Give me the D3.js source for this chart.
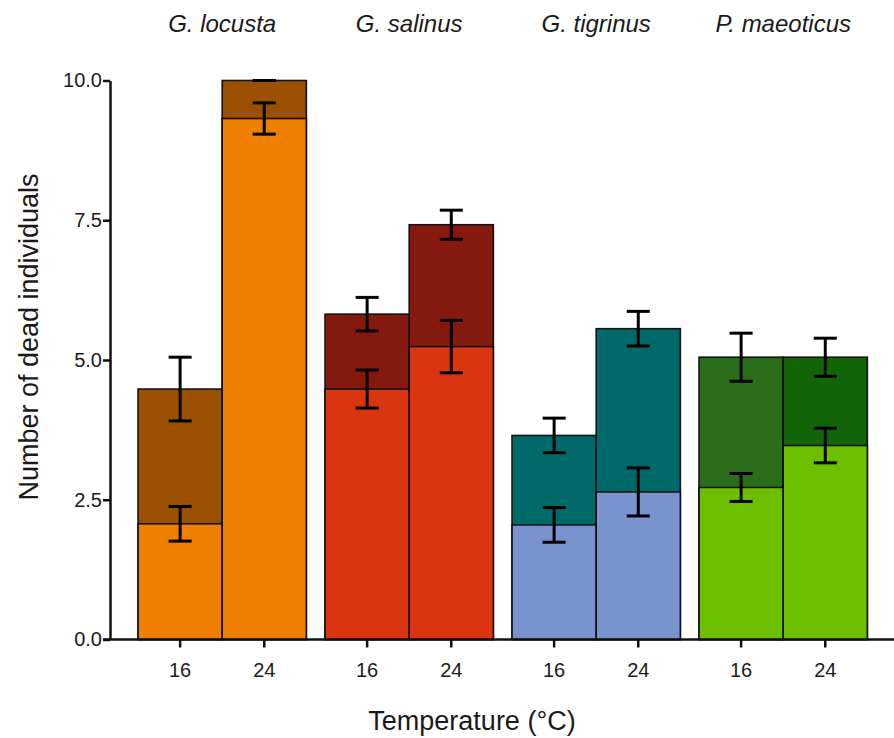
<!DOCTYPE html>
<html>
<head>
<meta charset="utf-8">
<script src="https://cdn.jsdelivr.net/npm/d3@7"></script>
<style>
  body { margin: 0; background: #fff; }
  text { font-family: "Liberation Sans", Arial, sans-serif; fill: #1a1a1a; }
  .species { font-style: italic; font-size: 24px; }
  .axis-label { font-size: 27px; }
</style>
</head>
<body>
<svg width="894" height="738"></svg>
<script>
  const species = ['G. locusta', 'G. salinus', 'G. tigrinus', 'P. maeoticus'];
  const temperatures = ['16', '24'];

  // lower (light) segment: mean and error, per species x temperature
  const lowerMean = [[2.07, 9.32], [4.48, 5.24], [2.05, 2.64], [2.72, 3.47]];
  const lowerErr  = [[0.31, 0.28], [0.34, 0.47], [0.31, 0.43], [0.25, 0.31]];
  // upper (dark) segment top: mean and error
  const upperMean = [[4.48, 10.0], [5.82, 7.42], [3.65, 5.56], [5.05, 5.05]];
  const upperErr  = [[0.57, 0.0], [0.30, 0.26], [0.31, 0.31], [0.43, 0.34]];

  const yTicks = [0, 2.5, 5, 7.5, 10];

  const lightColors = [['#ef7f00', '#ef7f00'], ['#db3410', '#db3410'], ['#7893ce', '#7893ce'], ['#6cc000', '#6cc000']];
  const darkColors  = [['#9b5000', '#9b5000'], ['#86190e', '#86190e'], ['#006a6a', '#006a6a'], ['#2a6d1a', '#116407']];

  const svg = d3.select('svg');

  const xOuter = d3.scaleBand()
    .domain(species)
    .range([110, 895.4])
    .paddingInner(0.1)
    .paddingOuter(0.15);

  const xInner = d3.scaleBand()
    .domain(temperatures)
    .range([0, xOuter.bandwidth()]);

  const yScale = d3.scaleLinear()
    .domain([0, 10])
    .range([639.5, 80.5]);

  // flatten into one row per bar
  const bars = [];
  species.forEach((s, i) => {
    temperatures.forEach((t, j) => {
      bars.push({
        species: s, temp: t,
        lower: lowerMean[i][j], lowerErr: lowerErr[i][j],
        upper: upperMean[i][j], upperErr: upperErr[i][j],
        light: lightColors[i][j], dark: darkColors[i][j]
      });
    });
  });

  const xLeft = d => xOuter(d.species) + xInner(d.temp);
  const xMid = d => xLeft(d) + xInner.bandwidth() / 2;

  const g = svg.append('g');

  // dark segment (full height to upper mean), then light segment on top
  g.selectAll('.upper-bar').data(bars).join('rect')
    .attr('class', 'upper-bar')
    .attr('x', xLeft)
    .attr('width', xInner.bandwidth())
    .attr('y', d => yScale(d.upper))
    .attr('height', d => yScale(0) - yScale(d.upper))
    .attr('fill', d => d.dark)
    .attr('stroke', '#111')
    .attr('stroke-width', 1.6);

  g.selectAll('.lower-bar').data(bars).join('rect')
    .attr('class', 'lower-bar')
    .attr('x', xLeft)
    .attr('width', xInner.bandwidth())
    .attr('y', d => yScale(d.lower))
    .attr('height', d => yScale(0) - yScale(d.lower))
    .attr('fill', d => d.light)
    .attr('stroke', '#111')
    .attr('stroke-width', 1.6);

  // error bars
  const errs = [];
  bars.forEach(d => {
    errs.push({ d: d, m: d.lower, e: d.lowerErr });
    errs.push({ d: d, m: d.upper, e: d.upperErr });
  });
  const capW = 11.5;
  const eg = g.selectAll('.err').data(errs).join('g')
    .attr('class', 'err')
    .attr('stroke', '#000')
    .attr('stroke-width', 3);
  eg.append('line')
    .attr('x1', e => xMid(e.d)).attr('x2', e => xMid(e.d))
    .attr('y1', e => yScale(e.m + e.e)).attr('y2', e => yScale(e.m - e.e));
  eg.append('line')
    .attr('x1', e => xMid(e.d) - capW).attr('x2', e => xMid(e.d) + capW)
    .attr('y1', e => yScale(e.m + e.e)).attr('y2', e => yScale(e.m + e.e));
  eg.append('line')
    .attr('x1', e => xMid(e.d) - capW).attr('x2', e => xMid(e.d) + capW)
    .attr('y1', e => yScale(e.m - e.e)).attr('y2', e => yScale(e.m - e.e));

  // y axis
  const yAxis = d3.axisLeft(yScale)
    .tickValues(yTicks)
    .tickFormat(d3.format('.1f'))
    .tickSize(7)
    .tickSizeOuter(0)
    .tickPadding(1);

  const yAxisG = svg.append('g')
    .attr('transform', 'translate(110,0)')
    .call(yAxis);
  yAxisG.selectAll('path, line').attr('stroke', '#111').attr('stroke-width', 2.5);
  yAxisG.selectAll('text').attr('fill', '#1a1a1a').style('font-size', '20px');

  // x axis: baseline plus ticks under each bar
  svg.append('line')
    .attr('x1', 103).attr('x2', 894)
    .attr('y1', yScale(0)).attr('y2', yScale(0))
    .attr('stroke', '#111').attr('stroke-width', 2.5);

  const xt = svg.selectAll('.xtick').data(bars).join('g')
    .attr('class', 'xtick')
    .attr('transform', d => `translate(${xMid(d)},${yScale(0)})`);
  xt.append('line').attr('y2', 8).attr('stroke', '#111').attr('stroke-width', 2.5);
  xt.append('text')
    .attr('y', 37)
    .attr('text-anchor', 'middle')
    .style('font-size', '20px')
    .text(d => d.temp);

  // species labels
  svg.selectAll('.species').data(species).join('text')
    .attr('class', 'species')
    .attr('x', d => xOuter(d) + xOuter.bandwidth() / 2)
    .attr('y', 32)
    .attr('text-anchor', 'middle')
    .text(d => d);

  // axis titles
  svg.append('text')
    .attr('class', 'axis-label')
    .attr('x', 472)
    .attr('y', 730)
    .attr('text-anchor', 'middle')
    .text('Temperature (°C)');

  svg.append('text')
    .attr('class', 'axis-label')
    .attr('transform', 'translate(38,337) rotate(-90)')
    .attr('text-anchor', 'middle')
    .text('Number of dead individuals');
</script>
</body>
</html>
